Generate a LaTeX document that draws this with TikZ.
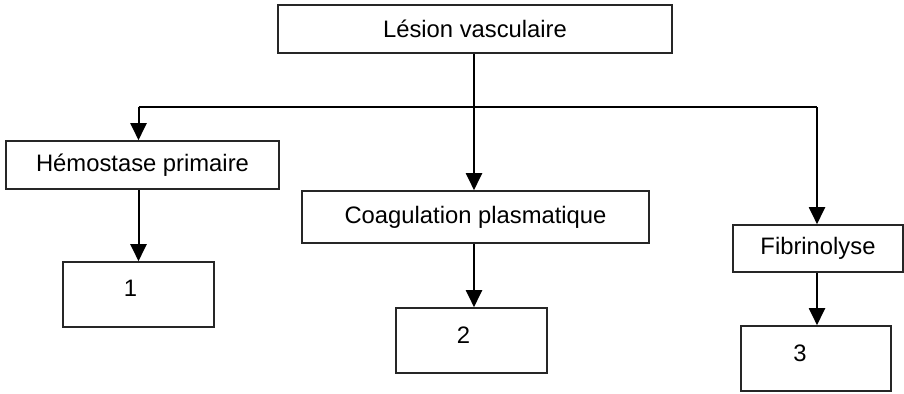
\documentclass[tikz,border=0pt]{standalone}
\usepackage{fontspec}
\setmainfont{Liberation Sans}
\usetikzlibrary{arrows.meta}
\begin{document}
\begin{tikzpicture}[x=0.5pt,y=-0.5pt,
  box/.style={draw=black!85, line width=0.8pt, rectangle, inner sep=0pt,
    font=\fontsize{11.9}{14}\selectfont},
  numbox/.style={box, minimum width=75.5pt, minimum height=32.5pt},
  arr/.style={line width=1pt, -{Triangle[width=8pt,length=8.5pt]}},
  ln/.style={line width=1pt}]
\useasboundingbox (0,0) rectangle (904,393);
\node[box, minimum width=197pt, minimum height=24pt] (lesion) at (475,29) {Lésion vasculaire};
\node[box, minimum width=136.5pt, minimum height=24pt] (hemo) at (142.5,165) {Hémostase primaire};
\node[box, minimum width=173.5pt, minimum height=26pt] (coag) at (475.5,217) {Coagulation plasmatique};
\node[box, minimum width=85pt, minimum height=23.5pt] (fib) at (818,248.5) {Fibrinolyse};
\node[numbox, label={[xshift=-4pt,yshift=3pt,font=\fontsize{11.9}{14}\selectfont]center:1}] (b1) at (138.5,294.5) {};
\node[numbox, label={[xshift=-4pt,yshift=2.5pt,font=\fontsize{11.9}{14}\selectfont]center:2}] (b2) at (471.5,340.5) {};
\node[numbox, minimum width=75pt, label={[xshift=-8pt,yshift=2.5pt,font=\fontsize{11.9}{14}\selectfont]center:3}] (b3) at (816,358.5) {};
\coordinate (jm) at (474,107);
\coordinate (jl) at (138.5,107);
\coordinate (jr) at (817,107);
\draw[arr] (lesion.south -| jm) -- (coag.north -| jm);
\draw[ln] (jl) -- (jr);
\draw[arr] (jl) -- (hemo.north -| jl);
\draw[arr] (jr) -- (fib.north -| jr);
\draw[arr] (hemo.south -| b1) -- (b1.north);
\draw[arr] (coag.south -| jm) -- (b2.north -| jm);
\draw[arr] (fib.south -| jr) -- (b3.north -| jr);
\end{tikzpicture}
\end{document}
